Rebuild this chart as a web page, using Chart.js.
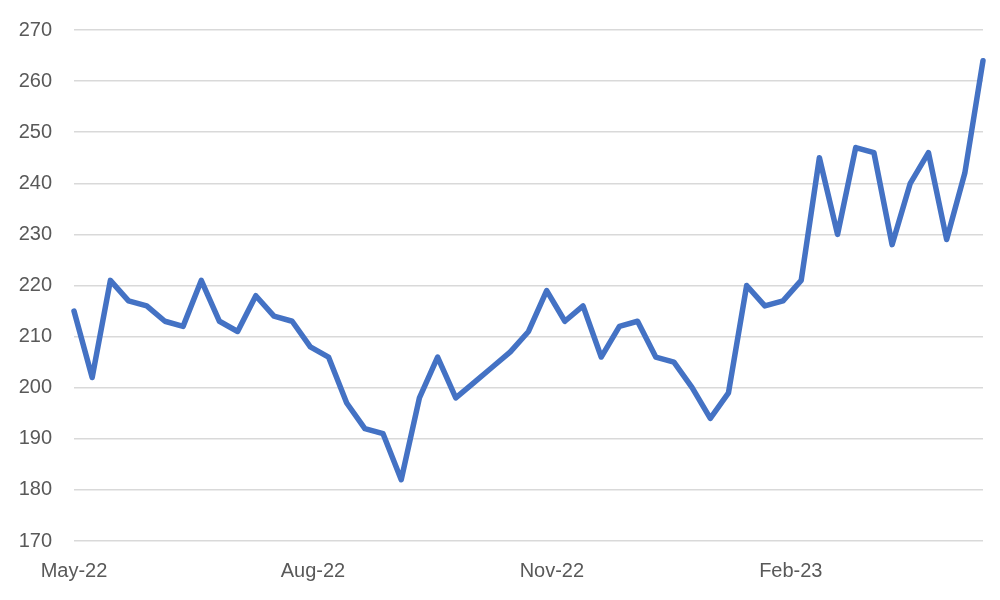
<!DOCTYPE html>
<html>
<head>
<meta charset="utf-8">
<script src="https://cdn.jsdelivr.net/npm/chart.js@4/dist/chart.umd.min.js"></script>
<style>
  html, body { margin: 0; padding: 0; background: #fff; }
  #wrap { width: 1000px; height: 600px; }
</style>
</head>
<body>
<div id="wrap"><canvas id="grafico"></canvas></div>
<script>
// weekly values, first week = 1 May 2022
const startDate = "2022-05-01";
const weekValues = [
  215, 202, 221, 217, 216, 213, 212, 221, 213, 211,
  218, 214, 213, 208, 206, 197, 192, 191, 182, 198,
  206, 198, 201, 204, 207, 211, 219, 213, 216, 206,
  212, 213, 206, 205, 200, 194, 199, 220, 216, 217,
  221, 245, 230, 247, 246, 228, 240, 246, 229, 242,
  264
];
// tick labels sit on the first of the month (days after startDate)
const tickDays = [0, 92, 184, 276];
const tickLabels = ["May-22", "Aug-22", "Nov-22", "Feb-23"];
const yTicks = [170, 180, 190, 200, 210, 220, 230, 240, 250, 260, 270];

const puntos = weekValues.map((v, i) => ({ x: i * 7, y: v }));

const fuente = { family: "Liberation Sans, Arial, sans-serif", size: 20 };

new Chart(document.getElementById("grafico"), {
  type: "line",
  data: {
    datasets: [
      {
        label: "Serie",
        data: puntos,
        borderColor: "#4472C4",
        borderWidth: 5.5,
        borderJoinStyle: "round",
        borderCapStyle: "round",
        pointRadius: 0,
        fill: false,
        tension: 0,
        clip: false,
      },
    ],
  },
  options: {
    responsive: true,
    maintainAspectRatio: false,
    animation: false,
    layout: { padding: { top: 30, right: 17, bottom: 0, left: 0 } },
    plugins: {
      legend: { display: false },
      tooltip: { enabled: false },
    },
    scales: {
      x: {
        type: "linear",
        min: 0,
        max: (weekValues.length - 1) * 7,
        afterBuildTicks: (axis) => {
          axis.ticks = tickDays.map((d) => ({ value: d }));
        },
        afterFit: (axis) => {
          axis.height = 59;
          axis.paddingLeft = 0;
          axis.paddingRight = 0;
        },
        grid: { display: false, drawTicks: false },
        border: { display: false },
        ticks: {
          autoSkip: false,
          maxRotation: 0,
          padding: 18,
          color: "#595959",
          font: fuente,
          callback: (v, i) => tickLabels[i],
        },
      },
      y: {
        min: 170,
        max: 270,
        afterBuildTicks: (axis) => {
          axis.ticks = yTicks.map((v) => ({ value: v }));
        },
        afterFit: (axis) => {
          axis.width = 74;
          axis.paddingTop = 0;
          axis.paddingBottom = 0;
        },
        grid: { color: "#d9d9d9", lineWidth: 1.5, drawTicks: false },
        border: { display: false },
        ticks: {
          padding: 22,
          color: "#595959",
          font: fuente,
        },
      },
    },
  },
});
</script>
</body>
</html>
